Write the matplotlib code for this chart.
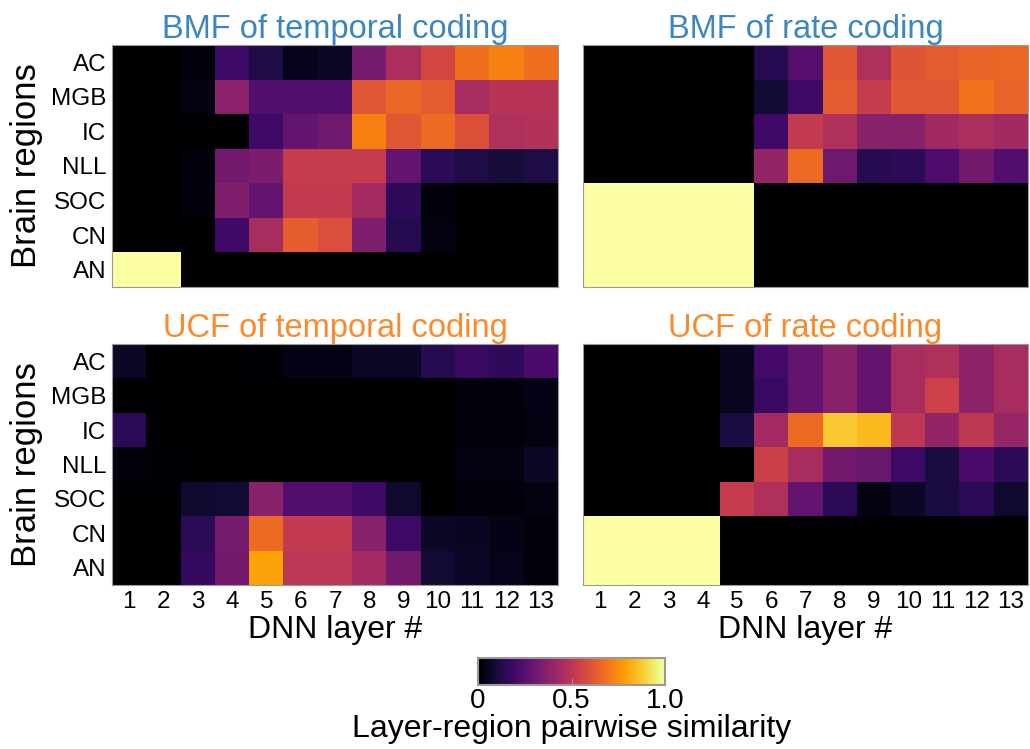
import numpy as np
import matplotlib
matplotlib.use("Agg")
import matplotlib.pyplot as plt

plt.rcParams["font.family"] = ["Liberation Sans", "DejaVu Sans"]

# -----------------------------
# Data
# -----------------------------

regions = ["AC", "MGB", "IC", "NLL", "SOC", "CN", "AN"]
layers = [str(i) for i in range(1, 14)]

bmf_temporal = [
    [0, 0, 0.02, 0.19, 0.12, 0.05, 0.07, 0.33, 0.46, 0.57, 0.68, 0.72, 0.68],
    [0, 0, 0.03, 0.38, 0.24, 0.24, 0.24, 0.62, 0.66, 0.63, 0.45, 0.49, 0.49],
    [0, 0, 0, 0, 0.20, 0.28, 0.31, 0.72, 0.62, 0.67, 0.60, 0.47, 0.48],
    [0, 0, 0.02, 0.32, 0.34, 0.53, 0.53, 0.53, 0.28, 0.15, 0.12, 0.10, 0.12],
    [0, 0, 0.02, 0.35, 0.28, 0.52, 0.52, 0.44, 0.16, 0.02, 0, 0, 0],
    [0, 0, 0, 0.20, 0.45, 0.64, 0.59, 0.35, 0.14, 0.03, 0, 0, 0],
    [1, 1, 0, 0, 0, 0, 0, 0, 0, 0, 0, 0, 0],
]

bmf_rate = [
    [0, 0, 0, 0, 0, 0.14, 0.25, 0.62, 0.47, 0.61, 0.63, 0.65, 0.66],
    [0, 0, 0, 0, 0, 0.09, 0.19, 0.63, 0.53, 0.62, 0.62, 0.69, 0.65],
    [0, 0, 0, 0, 0, 0.20, 0.52, 0.47, 0.37, 0.37, 0.43, 0.46, 0.43],
    [0, 0, 0, 0, 0, 0.40, 0.67, 0.31, 0.14, 0.15, 0.23, 0.32, 0.24],
    [1, 1, 1, 1, 1, 0, 0, 0, 0, 0, 0, 0, 0],
    [1, 1, 1, 1, 1, 0, 0, 0, 0, 0, 0, 0, 0],
    [1, 1, 1, 1, 1, 0, 0, 0, 0, 0, 0, 0, 0],
]

ucf_temporal = [
    [0.07, 0, 0, 0, 0.01, 0.04, 0.04, 0.07, 0.07, 0.14, 0.18, 0.16, 0.22],
    [0, 0, 0, 0, 0, 0, 0, 0, 0, 0, 0.02, 0.02, 0.04],
    [0.15, 0, 0, 0, 0, 0, 0, 0, 0, 0, 0.02, 0.02, 0.03],
    [0.02, 0.01, 0, 0, 0, 0, 0, 0, 0, 0, 0.03, 0.03, 0.07],
    [0, 0, 0.08, 0.09, 0.37, 0.24, 0.24, 0.19, 0.08, 0, 0.02, 0.02, 0.03],
    [0, 0, 0.15, 0.33, 0.67, 0.52, 0.52, 0.37, 0.19, 0.07, 0.06, 0.04, 0.02],
    [0, 0, 0.17, 0.32, 0.79, 0.50, 0.50, 0.44, 0.32, 0.09, 0.07, 0.05, 0.02],
]

ucf_rate = [
    [0, 0, 0, 0, 0.06, 0.21, 0.28, 0.37, 0.28, 0.45, 0.47, 0.39, 0.45],
    [0, 0, 0, 0, 0.06, 0.18, 0.28, 0.37, 0.28, 0.45, 0.55, 0.39, 0.45],
    [0, 0, 0, 0, 0.11, 0.44, 0.67, 0.87, 0.84, 0.51, 0.40, 0.51, 0.41],
    [0, 0, 0, 0, 0, 0.54, 0.45, 0.32, 0.30, 0.19, 0.11, 0.22, 0.15],
    [0, 0, 0, 0, 0.53, 0.47, 0.28, 0.15, 0.03, 0.07, 0.11, 0.15, 0.08],
    [1, 1, 1, 1, 0, 0, 0, 0, 0, 0, 0, 0, 0],
    [1, 1, 1, 1, 0, 0, 0, 0, 0, 0, 0, 0, 0],
]

titles = [
    "BMF of temporal coding",
    "BMF of rate coding",
    "UCF of temporal coding",
    "UCF of rate coding",
]
title_colors = ["#3a87c0", "#3a87c0", "#fb8a2c", "#fb8a2c"]
panels = [bmf_temporal, bmf_rate, ucf_temporal, ucf_rate]

# -----------------------------
# Figure
# -----------------------------

W, H = 1030, 749
fig = plt.figure(figsize=(W / 100, H / 100), dpi=100)

boxes = [
    (112, 45, 558, 287),
    (583, 45, 1028, 287),
    (112, 344, 558, 585),
    (583, 344, 1028, 585),
]

im = None
for i, (x0, y0, x1, y1) in enumerate(boxes):
    ax = fig.add_axes([x0 / W, 1 - y1 / H, (x1 - x0) / W, (y1 - y0) / H])
    im = ax.imshow(
        np.array(panels[i]),
        cmap="inferno",
        vmin=0,
        vmax=1,
        aspect="auto",
        interpolation="nearest",
    )
    ax.set_title(titles[i], color=title_colors[i], fontsize=23.5, pad=5)
    ax.tick_params(length=0, labelsize=17.5, pad=4)
    for s in ax.spines.values():
        s.set_color("#999999")
        s.set_linewidth(0.8)

    if i % 2 == 0:
        ax.set_yticks(range(len(regions)))
        ax.set_yticklabels(regions)
        ax.set_ylabel("Brain regions", fontsize=25, labelpad=6)
    else:
        ax.set_yticks([])

    if i >= 2:
        ax.set_xticks(range(len(layers)))
        ax.set_xticklabels(layers)
        ax.set_xlabel("DNN layer #", fontsize=23, labelpad=2)
    else:
        ax.set_xticks([])

# colorbar
cax = fig.add_axes([478 / W, 1 - 685 / H, 187 / W, 27 / H])
cb = fig.colorbar(im, cax=cax, orientation="horizontal", ticks=[0, 0.5, 1.0])
cb.ax.set_xticklabels(["0", "0.5", "1.0"])
cb.ax.tick_params(labelsize=20, length=5, direction="in", color="#999999", pad=2)
cb.outline.set_edgecolor("#999999")
cb.outline.set_linewidth(1.5)
cb.set_label("Layer-region pairwise similarity", fontsize=23, labelpad=0)

fig.savefig("out.png", dpi=100)
